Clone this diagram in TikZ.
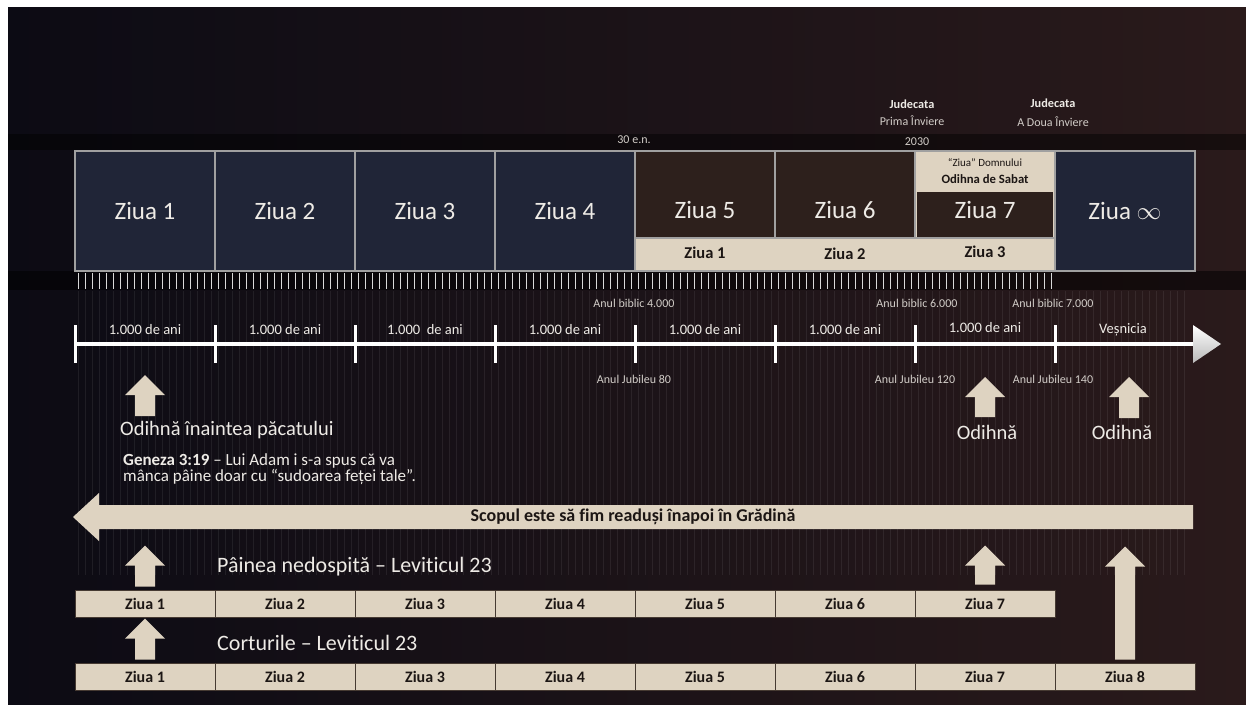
\documentclass[tikz,border=0pt]{standalone}
\usepackage{fontspec}
\setmainfont[Ligatures={TeX,NoCommon}]{Carlito}
\usetikzlibrary{positioning,calc}

\definecolor{bgL}{RGB}{12,11,20}
\definecolor{bgR}{RGB}{42,26,27}
\definecolor{cNavy}{RGB}{32,37,55}
\definecolor{cBrown}{RGB}{45,32,28}
\definecolor{cBeige}{RGB}{222,211,193}
\definecolor{cFrame}{RGB}{160,160,160}
\definecolor{cInk}{RGB}{28,22,20}
\definecolor{cText}{RGB}{238,235,230}
\definecolor{cSmall}{RGB}{210,205,200}
\definecolor{cRowLine}{RGB}{70,58,50}

\tikzset{
  pics/upblk/.style={code={
    \fill[cBeige] (-10,0) -- (10,0) -- (10,{-#1+20}) -- (20,{-#1+20}) -- (0,-#1)
      -- (-20,{-#1+20}) -- (-10,{-#1+20}) -- cycle;
  }},
}

\begin{document}
\begin{tikzpicture}[x=1pt, y=-1pt,
  fs/.style={font=\fontsize{#1}{#1}\selectfont},
  fsb/.style={font=\bfseries\fontsize{#1}{#1}\selectfont},
  dayNavy/.style={draw=cFrame, line width=1.5, fill=cNavy, minimum width=140,
                  minimum height=120, inner sep=0, text=cText, fs=25},
  dayBrown/.style={draw=cFrame, line width=1.5, fill=cBrown, minimum width=140,
                   minimum height=87, inner sep=0},
  panel/.style={draw=cFrame, line width=1.5, fill=cBeige, inner sep=0},
  bigday/.style={text=cText, fs=25, inner sep=0},
  stripday/.style={text=cInk, fsb=16.5, inner sep=0},
  rowday/.style={draw=cRowLine, line width=1, fill=cBeige, minimum width=140,
                 minimum height=27, inner sep=0, text=cInk, fsb=16},
  tag/.style={text=cSmall, fs=12, inner sep=0},
  era/.style={text=cText, fs=14.5, inner sep=0},
  rest/.style={text=cText, fs=20.5, inner sep=0},
  feast/.style={text=cText, fs=22, inner sep=0, anchor=west},
  stripe/.style={white, opacity=0.07, line width=1},
]
\useasboundingbox (0,0) rectangle (1246,704);
\fill[white] (0,0) rectangle (1246,704);
\shade[left color=bgL, right color=bgR] (8,7) rectangle (1246,704);
\fill[black, opacity=.45] (8,134) rectangle (1246,150);
\fill[black, opacity=.5] (8,271) rectangle (1246,290);
\foreach \x in {78,85,...,1190} \draw[stripe] (\x,291) -- (\x,575);

% top row of days
\foreach \n in {1,...,4}
  \node[dayNavy] (d\n) at ({5+140*\n},211) {Ziua \n};
\node[dayNavy] (dinf) at (1125,211) {Ziua $\infty$};
\node[dayBrown] (d5) at (705,194.5) {};
\node[dayBrown] (d6) at (845,194.5) {};
\node[panel, minimum width=140, minimum height=87] (sab) at (985,194.5) {};
\node[fill=cBrown, minimum width=136, minimum height=45, inner sep=0] (d7) at (985,214) {};
\node[panel, minimum width=420, minimum height=33] (strip) at (845,254.5) {};
\node[bigday] (d5t) at (705,210) {Ziua 5};
\node[bigday] (d6t) at (845,210) {Ziua 6};
\node[bigday] (d7t) at (985,210) {Ziua 7};
\node[text=cInk, fs=11, inner sep=0] (lord) at (985,163) {``Ziua'' Domnului};
\node[text=cInk, fsb=12.7, inner sep=0] (sabbath) at (985,179) {Odihna de Sabat};
\node[stripday] (s1) at (705,253) {Ziua 1};
\node[stripday] (s2) at (845,254) {Ziua 2};
\node[stripday] (s3) at (985,252) {Ziua 3};

\foreach \x in {78,85,...,1053} \draw[white!70!gray, line width=1] (\x,273) -- (\x,289);

\node[tag] (y30) at (634,140) {30 e.n.};
\node[tag] (y2030) at (917,142) {2030};
\node[tag, fsb=12.3, text=cText] (j1) at (912,104) {Judecata};
\node[tag] (r1) at (912,121) {Prima Înviere};
\node[tag, fsb=12.3, text=cText] (j2) at (1053,103) {Judecata};
\node[tag] (r2) at (1053,122) {A Doua Înviere};

% timeline
\coordinate (t0) at (75,344);
\coordinate (tEnd) at (1193,344);
\draw[white, line width=4] (t0) -- (tEnd);
\foreach \i in {0,...,7} \draw[white, line width=3] ({75+140*\i},325) -- ({75+140*\i},363);
\shade[top color=white, bottom color=gray!55] (1193,325) -- (1221,344) -- (1193,363) -- cycle;
\foreach \i in {0,1,3,4,5}
  \node[era] (era\i) at ({145+140*\i},330) {1.000 de ani};
\node[era] (era2) at (425,330) {1.000\ \ de ani};
\node[era] (era6) at (985,328) {1.000 de ani};
\node[era] (eternal) at (1123,330) {Veșnicia};

\node[tag] (b4) at (634,303) {Anul biblic 4.000};
\node[tag] (b6) at (917,303) {Anul biblic 6.000};
\node[tag] (b7) at (1053,303) {Anul biblic 7.000};
\node[tag] (jb80) at (634,379) {Anul Jubileu 80};
\node[tag] (jb120) at (915,379) {Anul Jubileu 120};
\node[tag] (jb140) at (1053,379) {Anul Jubileu 140};

% rest markers
\pic at (145,416) {upblk=41};
\pic at (985,417) {upblk=40};
\pic at (1129,418) {upblk=41};
\node[rest, anchor=west] (restEden) at (120,430) {Odihnă înaintea păcatului};
\node[rest] (rest7) at (987,432) {Odihnă};
\node[rest] (restInf) at (1122,432) {Odihnă};
\node[text=cText, font=\fontsize{17}{16.5}\selectfont, inner sep=0, align=left,
      anchor=west] (gen) at (123,469)
  {\textbf{Geneza 3:19} – Lui Adam i s-a spus că va\\mânca pâine doar cu ``sudoarea feței tale''.};

% back to the garden
\fill[cBeige] (73,517) -- (99,493) -- (99,505) -- (1193,505) -- (1193,529)
  -- (99,529) -- (99,541) -- cycle;
\node[text=cInk, fsb=18, inner sep=0] (goal) at (633,517)
  {Scopul este să fim readuși înapoi în Grădină};

% feasts
\foreach \n in {1,...,7}
  \node[rowday] (u\n) at ({5+140*\n},603.5) {Ziua \n};
\foreach \n in {1,...,8}
  \node[rowday] (c\n) at ({5+140*\n},676.5) {Ziua \n};
\node[feast] (unleav) at (217,567) {Pâinea nedospită – Leviticul 23};
\node[feast] (tents) at (217,643) {Corturile – Leviticul 23};
\pic at ([yshift=3pt]u1.north) {upblk=41};
\pic at ([yshift=5pt]u7.north) {upblk=39};
\pic at ([yshift=3pt]c1.north) {upblk=41};
\pic at ([yshift=3pt]c8.north) {upblk=113};
\end{tikzpicture}
\end{document}
